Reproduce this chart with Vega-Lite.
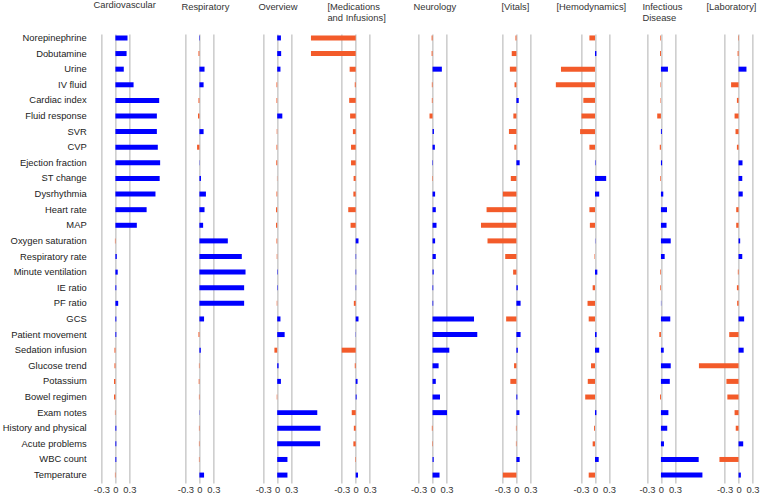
{
  "$schema": "https://vega.github.io/schema/vega-lite/v6.json",
  "padding": {"left": 1.4, "top": 0, "right": 0, "bottom": 0},
  "spacing": 0,
  "bounds": "flush",
  "config": {
    "view": {"stroke": null},
    "font": "Liberation Sans",
    "axis": {"labelFont": "Liberation Sans", "labelFontSize": 9.4, "labelColor": "#333333", "ticks": false, "domain": false, "gridColor": "#b0b0b0", "gridWidth": 1, "gridOpacity": 1},
    "axisX": {"labelPadding": 3, "labelFlush": false, "labelOverlap": false},
    "title": {"anchor": "start", "frame": "group", "font": "Liberation Sans", "fontSize": 9.4, "fontWeight": "normal", "color": "#333333", "lineHeight": 11, "offset": 11}
  },
  "data": {"values": [
    {"f": "Norepinephrine", "Cardiovascular": 0.26, "Respiratory": 0.01, "Overview": 0.08, "Medications": -0.96, "Neurology": -0.02, "Vitals": -0.02, "Hemodynamics": -0.12, "Infectious": -0.015, "Laboratory": -0.01},
    {"f": "Dobutamine", "Cardiovascular": 0.24, "Respiratory": -0.02, "Overview": 0.085, "Medications": -0.96, "Neurology": -0.02, "Vitals": -0.10, "Hemodynamics": 0.03, "Infectious": -0.02, "Laboratory": -0.02},
    {"f": "Urine", "Cardiovascular": 0.18, "Respiratory": 0.11, "Overview": 0.07, "Medications": -0.13, "Neurology": 0.20, "Vitals": -0.14, "Hemodynamics": -0.73, "Infectious": 0.15, "Laboratory": 0.17},
    {"f": "IV fluid", "Cardiovascular": 0.39, "Respiratory": 0.09, "Overview": -0.015, "Medications": -0.02, "Neurology": -0.015, "Vitals": -0.04, "Hemodynamics": -0.84, "Infectious": -0.01, "Laboratory": -0.16},
    {"f": "Cardiac index", "Cardiovascular": 0.94, "Respiratory": -0.02, "Overview": -0.015, "Medications": -0.14, "Neurology": -0.015, "Vitals": 0.05, "Hemodynamics": -0.25, "Infectious": -0.01, "Laboratory": -0.035},
    {"f": "Fluid response", "Cardiovascular": 0.89, "Respiratory": -0.03, "Overview": 0.11, "Medications": -0.12, "Neurology": -0.065, "Vitals": -0.065, "Hemodynamics": -0.29, "Infectious": -0.08, "Laboratory": -0.085},
    {"f": "SVR", "Cardiovascular": 0.89, "Respiratory": 0.09, "Overview": -0.01, "Medications": -0.06, "Neurology": 0.03, "Vitals": -0.16, "Hemodynamics": -0.32, "Infectious": 0.02, "Laboratory": -0.065},
    {"f": "CVP", "Cardiovascular": 0.91, "Respiratory": -0.05, "Overview": -0.015, "Medications": -0.10, "Neurology": 0.05, "Vitals": -0.045, "Hemodynamics": -0.12, "Infectious": -0.025, "Laboratory": -0.035},
    {"f": "Ejection fraction", "Cardiovascular": 0.96, "Respiratory": 0.005, "Overview": -0.02, "Medications": -0.10, "Neurology": 0.01, "Vitals": 0.07, "Hemodynamics": 0.01, "Infectious": 0.025, "Laboratory": 0.085},
    {"f": "ST change", "Cardiovascular": 0.95, "Respiratory": 0.035, "Overview": -0.005, "Medications": -0.045, "Neurology": -0.01, "Vitals": -0.12, "Hemodynamics": 0.24, "Infectious": -0.015, "Laboratory": 0.08},
    {"f": "Dysrhythmia", "Cardiovascular": 0.86, "Respiratory": 0.14, "Overview": -0.015, "Medications": -0.05, "Neurology": 0.055, "Vitals": -0.29, "Hemodynamics": 0.09, "Infectious": 0.05, "Laboratory": 0.09},
    {"f": "Heart rate", "Cardiovascular": 0.67, "Respiratory": 0.11, "Overview": -0.025, "Medications": -0.16, "Neurology": 0.07, "Vitals": -0.64, "Hemodynamics": -0.12, "Infectious": 0.13, "Laboratory": -0.05},
    {"f": "MAP", "Cardiovascular": 0.46, "Respiratory": 0.08, "Overview": -0.025, "Medications": -0.11, "Neurology": 0.085, "Vitals": -0.76, "Hemodynamics": -0.11, "Infectious": 0.12, "Laboratory": -0.05},
    {"f": "Oxygen saturation", "Cardiovascular": -0.01, "Respiratory": 0.61, "Overview": -0.015, "Medications": 0.06, "Neurology": 0.055, "Vitals": -0.62, "Hemodynamics": 0.005, "Infectious": 0.21, "Laboratory": 0.035},
    {"f": "Respiratory rate", "Cardiovascular": 0.03, "Respiratory": 0.91, "Overview": -0.01, "Medications": 0.01, "Neurology": 0.07, "Vitals": -0.24, "Hemodynamics": -0.01, "Infectious": 0.08, "Laboratory": 0.08},
    {"f": "Minute ventilation", "Cardiovascular": 0.05, "Respiratory": 0.99, "Overview": 0.01, "Medications": 0.01, "Neurology": 0.025, "Vitals": -0.07, "Hemodynamics": 0.05, "Infectious": -0.015, "Laboratory": -0.015},
    {"f": "IE ratio", "Cardiovascular": 0.02, "Respiratory": 0.96, "Overview": 0.01, "Medications": 0.01, "Neurology": 0.015, "Vitals": 0.03, "Hemodynamics": -0.05, "Infectious": -0.015, "Laboratory": -0.035},
    {"f": "PF ratio", "Cardiovascular": 0.06, "Respiratory": 0.96, "Overview": -0.01, "Medications": -0.04, "Neurology": 0.015, "Vitals": 0.09, "Hemodynamics": -0.16, "Infectious": 0.005, "Laboratory": -0.03},
    {"f": "GCS", "Cardiovascular": 0.02, "Respiratory": 0.10, "Overview": 0.07, "Medications": 0.06, "Neurology": 0.89, "Vitals": -0.22, "Hemodynamics": -0.135, "Infectious": 0.20, "Laboratory": 0.12},
    {"f": "Patient movement", "Cardiovascular": 0.02, "Respiratory": -0.02, "Overview": 0.16, "Medications": 0.005, "Neurology": 0.96, "Vitals": 0.09, "Hemodynamics": 0.035, "Infectious": -0.035, "Laboratory": -0.20},
    {"f": "Sedation infusion", "Cardiovascular": -0.02, "Respiratory": 0.03, "Overview": -0.06, "Medications": -0.30, "Neurology": 0.36, "Vitals": 0.03, "Hemodynamics": 0.09, "Infectious": 0.06, "Laboratory": 0.11},
    {"f": "Glucose trend", "Cardiovascular": -0.02, "Respiratory": -0.01, "Overview": 0.03, "Medications": -0.02, "Neurology": 0.13, "Vitals": -0.05, "Hemodynamics": -0.085, "Infectious": 0.21, "Laboratory": -0.85},
    {"f": "Potassium", "Cardiovascular": -0.03, "Respiratory": -0.015, "Overview": 0.08, "Medications": 0.04, "Neurology": 0.07, "Vitals": -0.13, "Hemodynamics": -0.155, "Infectious": 0.19, "Laboratory": -0.26},
    {"f": "Bowel regimen", "Cardiovascular": -0.03, "Respiratory": -0.01, "Overview": -0.01, "Medications": 0.02, "Neurology": 0.16, "Vitals": 0.02, "Hemodynamics": -0.21, "Infectious": -0.02, "Laboratory": -0.24},
    {"f": "Exam notes", "Cardiovascular": -0.01, "Respiratory": 0.005, "Overview": 0.86, "Medications": -0.085, "Neurology": 0.31, "Vitals": 0.065, "Hemodynamics": 0.03, "Infectious": 0.16, "Laboratory": -0.085},
    {"f": "History and physical", "Cardiovascular": 0.02, "Respiratory": -0.01, "Overview": 0.93, "Medications": -0.04, "Neurology": -0.015, "Vitals": -0.01, "Hemodynamics": -0.02, "Infectious": 0.135, "Laboratory": -0.06},
    {"f": "Acute problems", "Cardiovascular": 0.02, "Respiratory": -0.01, "Overview": 0.92, "Medications": -0.05, "Neurology": -0.01, "Vitals": -0.01, "Hemodynamics": -0.05, "Infectious": 0.065, "Laboratory": 0.10},
    {"f": "WBC count", "Cardiovascular": 0.02, "Respiratory": -0.01, "Overview": 0.22, "Medications": -0.01, "Neurology": 0.025, "Vitals": 0.07, "Hemodynamics": 0.08, "Infectious": 0.81, "Laboratory": -0.41},
    {"f": "Temperature", "Cardiovascular": -0.01, "Respiratory": 0.10, "Overview": 0.22, "Medications": 0.05, "Neurology": 0.15, "Vitals": -0.29, "Hemodynamics": -0.135, "Infectious": 0.89, "Laboratory": 0.05}
  ]},
  "hconcat": [
    {
      "width": 87.6, "height": 449,
      "title": {"text": ["Cardiovascular", " "]},
      "mark": {"type": "bar"},
      "encoding": {
        "y": {"field": "f", "type": "nominal", "sort": null, "scale": {"paddingInner": 0.68, "paddingOuter": 0.22, "align": 0.21}, "axis": {"title": null, "labelPadding": 7.2, "labelFontSize": 9.4, "labelColor": "#222222", "labelLimit": 300, "grid": false}},
        "x": {"field": "Cardiovascular", "type": "quantitative", "scale": {"domain": [-0.4721, 1.4077], "nice": false, "zero": false}, "axis": {"title": null, "values": [-0.3, 0, 0.3], "grid": true, "labelExpr": "datum.value == 0 ? '0' : (datum.value < 0 ? '-0.3' : '0.3')"}},
        "color": {"condition": {"test": "datum.Cardiovascular < 0", "value": "#F35B2A"}, "value": "#0000FF"}
      }
    },
    {
      "width": 76.4, "height": 449,
      "title": {"text": ["Respiratory", " "]},
      "mark": {"type": "bar"},
      "encoding": {
        "y": {"field": "f", "type": "nominal", "sort": null, "scale": {"paddingInner": 0.68, "paddingOuter": 0.22, "align": 0.21}, "axis": null},
        "x": {"field": "Respiratory", "type": "quantitative", "scale": {"domain": [-0.3863, 1.2532], "nice": false, "zero": false}, "axis": {"title": null, "values": [-0.3, 0, 0.3], "grid": true, "labelExpr": "datum.value == 0 ? '0' : (datum.value < 0 ? '-0.3' : '0.3')"}},
        "color": {"condition": {"test": "datum.Respiratory < 0", "value": "#F35B2A"}, "value": "#0000FF"}
      }
    },
    {
      "width": 69.0, "height": 449,
      "title": {"text": ["Overview", " "]},
      "mark": {"type": "bar"},
      "encoding": {
        "y": {"field": "f", "type": "nominal", "sort": null, "scale": {"paddingInner": 0.68, "paddingOuter": 0.22, "align": 0.21}, "axis": null},
        "x": {"field": "Overview", "type": "quantitative", "scale": {"domain": [-0.4034, 1.0773], "nice": false, "zero": false}, "axis": {"title": null, "values": [-0.3, 0, 0.3], "grid": true, "labelExpr": "datum.value == 0 ? '0' : (datum.value < 0 ? '-0.3' : '0.3')"}},
        "color": {"condition": {"test": "datum.Overview < 0", "value": "#F35B2A"}, "value": "#0000FF"}
      }
    },
    {
      "width": 86.0, "height": 449,
      "title": {"text": ["[Medications", "and Infusions]"]},
      "mark": {"type": "bar"},
      "encoding": {
        "y": {"field": "f", "type": "nominal", "sort": null, "scale": {"paddingInner": 0.68, "paddingOuter": 0.22, "align": 0.21}, "axis": null},
        "x": {"field": "Medications", "type": "quantitative", "scale": {"domain": [-0.6073, 1.2382], "nice": false, "zero": false}, "axis": {"title": null, "values": [-0.3, 0, 0.3], "grid": true, "labelExpr": "datum.value == 0 ? '0' : (datum.value < 0 ? '-0.3' : '0.3')"}},
        "color": {"condition": {"test": "datum.Medications < 0", "value": "#F35B2A"}, "value": "#0000FF"}
      }
    },
    {
      "width": 87.6, "height": 449,
      "title": {"text": ["Neurology", " "]},
      "mark": {"type": "bar"},
      "encoding": {
        "y": {"field": "f", "type": "nominal", "sort": null, "scale": {"paddingInner": 0.68, "paddingOuter": 0.22, "align": 0.21}, "axis": null},
        "x": {"field": "Neurology", "type": "quantitative", "scale": {"domain": [-0.4109, 1.4689], "nice": false, "zero": false}, "axis": {"title": null, "values": [-0.3, 0, 0.3], "grid": true, "labelExpr": "datum.value == 0 ? '0' : (datum.value < 0 ? '-0.3' : '0.3')"}},
        "color": {"condition": {"test": "datum.Neurology < 0", "value": "#F35B2A"}, "value": "#0000FF"}
      }
    },
    {
      "width": 54.4, "height": 449,
      "title": {"text": ["[Vitals]", " "]},
      "mark": {"type": "bar"},
      "encoding": {
        "y": {"field": "f", "type": "nominal", "sort": null, "scale": {"paddingInner": 0.68, "paddingOuter": 0.22, "align": 0.21}, "axis": null},
        "x": {"field": "Vitals", "type": "quantitative", "scale": {"domain": [-0.3219, 0.8455], "nice": false, "zero": false}, "axis": {"title": null, "values": [-0.3, 0, 0.3], "grid": true, "labelExpr": "datum.value == 0 ? '0' : (datum.value < 0 ? '-0.3' : '0.3')"}},
        "color": {"condition": {"test": "datum.Vitals < 0", "value": "#F35B2A"}, "value": "#0000FF"}
      }
    },
    {
      "width": 85.6, "height": 449,
      "title": {"text": ["[Hemodynamics]", " "]},
      "mark": {"type": "bar"},
      "encoding": {
        "y": {"field": "f", "type": "nominal", "sort": null, "scale": {"paddingInner": 0.68, "paddingOuter": 0.22, "align": 0.21}, "axis": null},
        "x": {"field": "Hemodynamics", "type": "quantitative", "scale": {"domain": [-0.8283, 1.0086], "nice": false, "zero": false}, "axis": {"title": null, "values": [-0.3, 0, 0.3], "grid": true, "labelExpr": "datum.value == 0 ? '0' : (datum.value < 0 ? '-0.3' : '0.3')"}},
        "color": {"condition": {"test": "datum.Hemodynamics < 0", "value": "#F35B2A"}, "value": "#0000FF"}
      }
    },
    {
      "width": 63.4, "height": 449,
      "title": {"text": ["Infectious", "Disease"]},
      "mark": {"type": "bar"},
      "encoding": {
        "y": {"field": "f", "type": "nominal", "sort": null, "scale": {"paddingInner": 0.68, "paddingOuter": 0.22, "align": 0.21}, "axis": null},
        "x": {"field": "Infectious", "type": "quantitative", "scale": {"domain": [-0.3981, 0.9624], "nice": false, "zero": false}, "axis": {"title": null, "values": [-0.3, 0, 0.3], "grid": true, "labelExpr": "datum.value == 0 ? '0' : (datum.value < 0 ? '-0.3' : '0.3')"}},
        "color": {"condition": {"test": "datum.Infectious < 0", "value": "#F35B2A"}, "value": "#0000FF"}
      }
    },
    {
      "width": 55.3, "height": 449,
      "title": {"text": ["[Laboratory]", " "]},
      "mark": {"type": "bar"},
      "encoding": {
        "y": {"field": "f", "type": "nominal", "sort": null, "scale": {"paddingInner": 0.68, "paddingOuter": 0.22, "align": 0.21}, "axis": null},
        "x": {"field": "Laboratory", "type": "quantitative", "scale": {"domain": [-0.6899, 0.4968], "nice": false, "zero": false}, "axis": {"title": null, "values": [-0.3, 0, 0.3], "grid": true, "labelExpr": "datum.value == 0 ? '0' : (datum.value < 0 ? '-0.3' : '0.3')"}},
        "color": {"condition": {"test": "datum.Laboratory < 0", "value": "#F35B2A"}, "value": "#0000FF"}
      }
    }
  ]
}
